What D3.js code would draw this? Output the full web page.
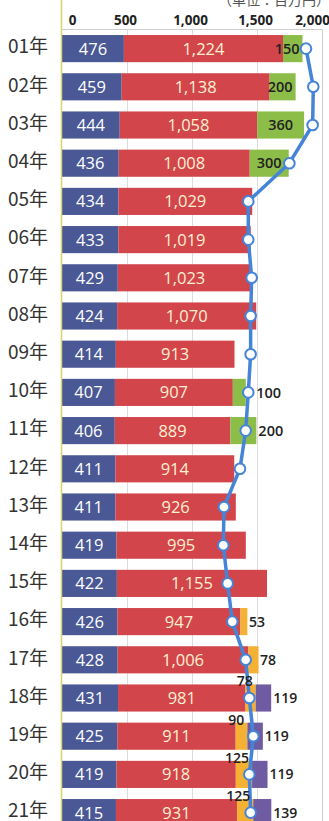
<!DOCTYPE html>
<html><head><meta charset="utf-8">
<script src="https://cdn.jsdelivr.net/npm/d3@7"></script>
<style>
html,body{margin:0;padding:0;background:#fff;overflow:hidden;}
svg{display:block;}
</style></head>
<body>
<svg id="chart" width="329" height="821"></svg>
<script>
const years = ["01年","02年","03年","04年","05年","06年","07年","08年","09年","10年","11年","12年","13年","14年","15年","16年","17年","18年","19年","20年","21年"];
const seriesBlue   = [476,459,444,436,434,433,429,424,414,407,406,411,411,419,422,426,428,431,425,419,415];
const seriesRed    = [1224,1138,1058,1008,1029,1019,1023,1070,913,907,889,914,926,995,1155,947,1006,981,911,918,931];
const seriesGreen  = [150,200,360,300,0,0,0,0,0,100,200,0,0,0,0,0,0,0,0,0,0];
const seriesOrange = [0,0,0,0,0,0,0,0,0,0,0,0,0,0,0,53,78,78,90,125,125];
const seriesPurple = [0,0,0,0,0,0,0,0,0,0,0,0,0,0,0,0,0,119,119,119,139];
const lineValues   = [1877,1933,1928,1749,1433,1433,1459,1451,1451,1433,1413,1369,1246,1241,1274,1310,1413,1441,1472,1441,1451];
const xTicks = [0,500,1000,1500,2000];
const unitLabel = "（単位：百万円）";
const greenInsideYears = ["01年","02年","03年","04年"];

const keys = ["blue","red","green","orange","purple"];
const colors = {blue:"#4a5895", red:"#d2464b", green:"#8dbd49", orange:"#f4b134", purple:"#6e5ba2"};
const table = years.map((y,i)=>({year:y, blue:seriesBlue[i], red:seriesRed[i], green:seriesGreen[i], orange:seriesOrange[i], purple:seriesPurple[i], line:lineValues[i]}));

const svg = d3.select("#chart");
const x = d3.scaleLinear().domain([0,2000]).range([62,322]);
const y = d3.scaleBand().domain(years).range([29.5, 831.7]).paddingInner(0.29).paddingOuter(0.145);
const plotTop = 29.5, plotBottom = 821;

// gridlines
svg.append("g").selectAll("line").data([500,1000,1500,2000]).join("line")
  .attr("x1",d=>x(d)+0.5).attr("x2",d=>x(d)+0.5).attr("y1",plotTop).attr("y2",plotBottom)
  .attr("stroke",d=>d===2000?"#cfcfcf":"#dcdcdc").attr("stroke-width",1);
svg.append("line").attr("x1",x(0)).attr("x2",x(2000)+0.5).attr("y1",plotTop).attr("y2",plotTop)
  .attr("stroke","#cfcfcf");

// unit label (clipped at top as in the source)
svg.append("text").attr("x",218).attr("y",5).text(unitLabel)
  .attr("font-family","'Noto Sans CJK JP'").attr("font-size",14).attr("fill","#555");

// axis ticks
const axis = d3.axisTop(x).tickValues(xTicks).tickFormat(d3.format(",")).tickSize(0).tickPadding(0);
const ag = svg.append("g").attr("transform","translate(0,25)").call(axis);
ag.select(".domain").remove();
ag.selectAll("text").attr("font-family","'Open Sans'").attr("font-weight","bold").attr("font-size",13.5)
  .attr("fill","#222").attr("dy",0)
  .attr("dx",d=>d===0?10:(d===2000?-10:-2));

// bars
const stack = d3.stack().keys(keys)(table);
const barG = svg.append("g");
stack.forEach(layer=>{
  barG.append("g").attr("fill",colors[layer.key]).selectAll("rect").data(layer).join("rect")
    .attr("x",d=>x(d[0])).attr("width",d=>x(d[1])-x(d[0]))
    .attr("y",d=>y(d.data.year)).attr("height",y.bandwidth());
});

// left axis line
svg.append("line").attr("x1",61.5).attr("x2",61.5).attr("y1",0).attr("y2",plotBottom)
  .attr("stroke","#d8d46a").attr("stroke-width",1.5);

// year labels
svg.append("g").selectAll("text").data(years).join("text")
  .attr("x",8).attr("y",d=>y(d)+y.bandwidth()/2-2).attr("dy","0.36em")
  .attr("font-family","'Noto Sans CJK JP'").attr("font-size",19).attr("fill","#333")
  .text(d=>d);

const fmt = d3.format(",");
const mid = d=>y(d.year)+y.bandwidth()/2;

// blue labels
svg.append("g").selectAll("text").data(table).join("text")
  .attr("x",d=>x(d.blue/2)).attr("y",mid).attr("dy","0.36em").attr("text-anchor","middle")
  .attr("font-family","'Open Sans'").attr("font-size",16.5).attr("fill","#ffffff").text(d=>fmt(d.blue));
// red labels
svg.append("g").selectAll("text").data(table).join("text")
  .attr("x",d=>x(d.blue+d.red/2)).attr("y",mid).attr("dy","0.36em").attr("text-anchor","middle")
  .attr("font-family","'Open Sans'").attr("font-size",16.5).attr("fill","#fff0d2").text(d=>fmt(d.red));

// line + circles
const lineGen = d3.line().x(d=>x(d.line)).y(mid);
svg.append("path").datum(table).attr("d",lineGen).attr("fill","none")
  .attr("stroke","#4684d8").attr("stroke-width",3.5).attr("stroke-linejoin","round");
svg.append("g").selectAll("circle").data(table).join("circle")
  .attr("cx",d=>x(d.line)).attr("cy",mid).attr("r",5.3)
  .attr("fill","#fff").attr("stroke","#4684d8").attr("stroke-width",2);

// green labels
const greenRows = table.filter(d=>d.green>0);
svg.append("g").selectAll("text").data(greenRows).join("text")
  .attr("font-family","'Open Sans'").attr("font-size",14.5).attr("font-weight",600).attr("fill","#222")
  .attr("y",mid).attr("dy","0.36em")
  .text(d=>fmt(d.green))
  .each(function(d){
    const s = x(d.blue+d.red), e = x(d.blue+d.red+d.green);
    const el = d3.select(this);
    if (greenInsideYears.includes(d.year)) {
      const w = this.getComputedTextLength();
      const c = Math.min((s+e)/2, e-3-w/2);
      el.attr("x",c).attr("text-anchor","middle");
    } else {
      el.attr("x",Math.max(e, x(d.line)+6)+2).attr("text-anchor","start");
    }
  });

// orange labels
const orangeRows = table.filter(d=>d.orange>0);
svg.append("g").selectAll("text").data(orangeRows).join("text")
  .attr("font-family","'Open Sans'").attr("font-size",14).attr("font-weight",600).attr("fill","#222")
  .text(d=>fmt(d.orange))
  .each(function(d){
    const e = x(d.blue+d.red+d.orange);
    const el = d3.select(this);
    if (d.purple>0) {
      el.attr("x",e-3).attr("text-anchor","end").attr("y",y(d.year)+2);
    } else {
      el.attr("x",Math.max(e, x(d.line)+6)+1.5).attr("text-anchor","start").attr("y",mid(d)).attr("dy","0.36em");
    }
  });

// purple labels
const purpleRows = table.filter(d=>d.purple>0);
svg.append("g").selectAll("text").data(purpleRows).join("text")
  .attr("font-family","'Open Sans'").attr("font-size",14).attr("font-weight",600).attr("fill","#222")
  .attr("x",d=>Math.max(x(d.blue+d.red+d.orange+d.purple), x(d.line)+6)+2)
  .attr("y",mid).attr("dy","0.36em").text(d=>fmt(d.purple));
</script>
</body></html>
